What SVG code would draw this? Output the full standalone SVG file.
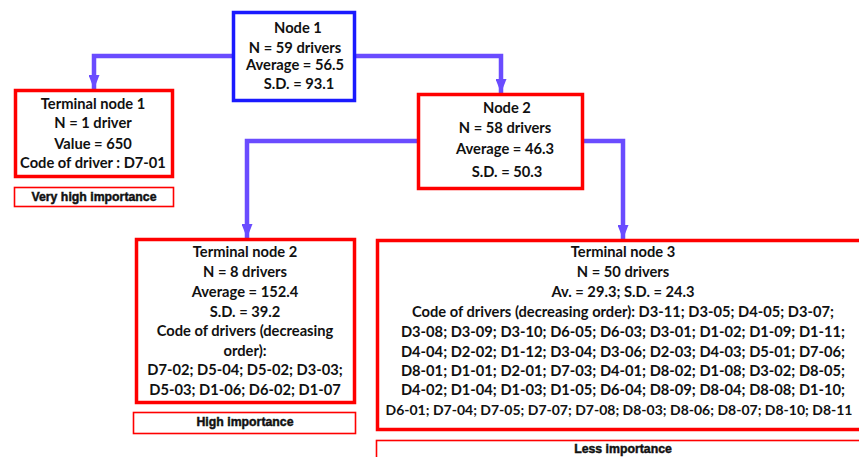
<svg xmlns="http://www.w3.org/2000/svg" width="859" height="457" viewBox="0 0 859 457">
<defs>
<style>
.t{font-family:Lato,"Open Sans",sans-serif;font-weight:bold;font-size:14.7px;fill:#111;text-anchor:middle}
.imp{font-family:"Liberation Sans",Arial,sans-serif;font-weight:bold;font-size:12.3px;fill:#111;stroke:#111;stroke-width:0.45;text-anchor:middle}
.rb{fill:#fff;stroke:#ff0000;stroke-width:3.5}
.bb{fill:#fff;stroke:#1a1aff;stroke-width:3.5}
.ib{fill:#fff;stroke:#ff0000;stroke-width:1.6}
.c{fill:none;stroke:#6a4cff;stroke-width:4.5}
</style>
<marker id="ah" viewBox="0 0 14 11" refX="14" refY="5.5" markerWidth="14" markerHeight="11" markerUnits="userSpaceOnUse" orient="auto">
<path d="M0,0 L14,5.5 L0,11 Z" fill="#6a4cff"/>
</marker>
</defs>
<rect width="859" height="457" fill="#fff"/>
<g id="connectors">
<path class="c" d="M233,56 H94 V89" marker-end="url(#ah)"/>
<path class="c" d="M356,56 H501 V93" marker-end="url(#ah)"/>
<path class="c" d="M417,141 H247 V238" marker-end="url(#ah)"/>
<path class="c" d="M584,141 H623 V239" marker-end="url(#ah)"/>
</g>
<g id="node1">
<rect class="bb" x="233.5" y="12.5" width="121" height="88"/>
<text class="t" x="298" y="33">Node 1</text>
<text class="t" x="295" y="53">N = 59 drivers</text>
<text class="t" x="295" y="70">Average = 56.5</text>
<text class="t" x="299" y="89">S.D. = 93.1</text>
</g>
<g id="terminal1">
<rect class="rb" x="15.5" y="90.5" width="157" height="86"/>
<text class="t" x="93" y="109">Terminal node 1</text>
<text class="t" x="93" y="128">N = 1 driver</text>
<text class="t" x="93" y="149">Value = 650</text>
<text class="t" x="93" y="168">Code of driver : D7-01</text>
</g>
<g id="imp1">
<rect class="ib" x="14.5" y="187.5" width="159" height="19"/>
<text class="imp" x="94" y="201">Very high importance</text>
</g>
<g id="node2">
<rect class="rb" x="418.5" y="94.5" width="164" height="94"/>
<text class="t" x="507" y="113">Node 2</text>
<text class="t" x="505" y="133">N = 58 drivers</text>
<text class="t" x="505" y="154">Average = 46.3</text>
<text class="t" x="507" y="177">S.D. = 50.3</text>
</g>
<g id="terminal2">
<rect class="rb" x="136.5" y="239.5" width="218" height="163"/>
<text class="t" x="245" y="257">Terminal node 2</text>
<text class="t" x="245" y="277">N = 8 drivers</text>
<text class="t" x="245" y="297">Average = 152.4</text>
<text class="t" x="245" y="317">S.D. = 39.2</text>
<text class="t" x="245" y="336">Code of drivers (decreasing</text>
<text class="t" x="245" y="356">order):</text>
<text class="t" x="245" y="375">D7-02; D5-04; D5-02; D3-03;</text>
<text class="t" x="245" y="395">D5-03; D1-06; D6-02; D1-07</text>
</g>
<g id="imp2">
<rect class="ib" x="133.5" y="412.5" width="222" height="21"/>
<text class="imp" x="245" y="426">High importance</text>
</g>
<g id="terminal3">
<rect class="rb" x="377.5" y="240.5" width="490" height="189"/>
<text class="t" x="623" y="257">Terminal node 3</text>
<text class="t" x="623" y="277">N = 50 drivers</text>
<text class="t" x="623" y="297">Av. = 29.3; S.D. = 24.3</text>
<text class="t" x="623" y="317">Code of drivers (decreasing order): D3-11; D3-05; D4-05; D3-07;</text>
<text class="t" x="623" y="337">D3-08; D3-09; D3-10; D6-05; D6-03; D3-01; D1-02; D1-09; D1-11;</text>
<text class="t" x="623" y="357">D4-04; D2-02; D1-12; D3-04; D3-06; D2-03; D4-03; D5-01; D7-06;</text>
<text class="t" x="623" y="376">D8-01; D1-01; D2-01; D7-03; D4-01; D8-02; D1-08; D3-02; D8-05;</text>
<text class="t" x="623" y="395">D4-02; D1-04; D1-03; D1-05; D6-04; D8-09; D8-04; D8-08; D1-10;</text>
<text class="t" x="619" y="415" style="font-size:14px">D6-01; D7-04; D7-05; D7-07; D7-08; D8-03; D8-06; D8-07; D8-10; D8-11</text>
</g>
<g id="imp3">
<rect class="ib" x="376.5" y="440.5" width="495" height="25"/>
<text class="imp" x="623" y="453">Less importance</text>
</g>
</svg>
